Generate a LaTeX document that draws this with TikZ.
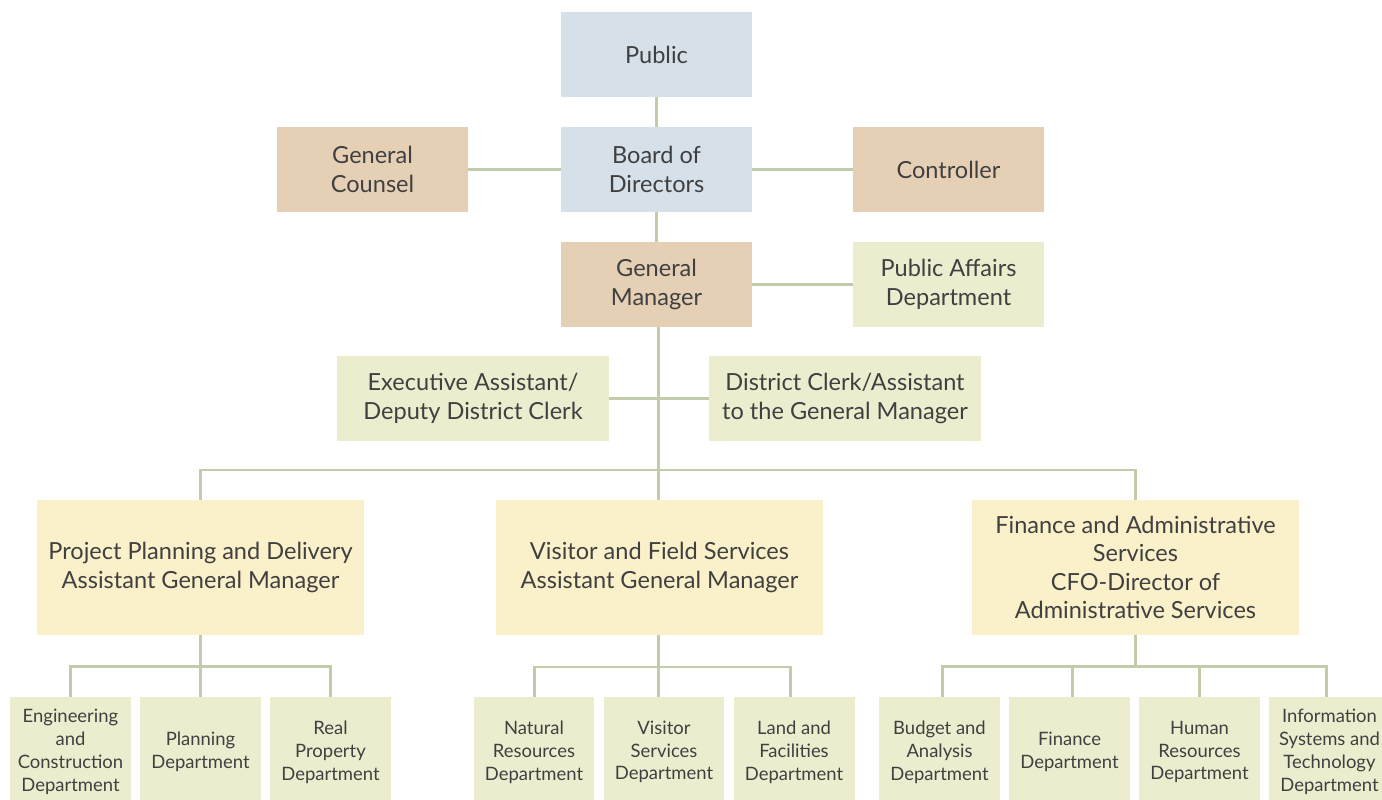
\documentclass[tikz,border=0pt]{standalone}
\usepackage{fontspec}
\setmainfont{Lato}
\definecolor{bluebox}{HTML}{D6E0E8}
\definecolor{tanbox}{HTML}{E5D0B6}
\definecolor{greenbox}{HTML}{ECEDCF}
\definecolor{yellowbox}{HTML}{FAF0CA}
\definecolor{linkcol}{HTML}{C2CCA8}
\definecolor{textcol}{HTML}{404040}
\tikzset{
  unitbox/.style={inner sep=2pt, align=center, text=textcol,
    font=\fontsize{13.4}{16.2}\selectfont},
  topbox/.style={unitbox, minimum width=3.82cm, minimum height=1.7cm},
  assistbox/.style={unitbox, fill=greenbox, minimum width=5.44cm, minimum height=1.7cm},
  agmbox/.style={unitbox, fill=yellowbox, minimum width=6.54cm, minimum height=2.7cm},
  deptbox/.style={unitbox, fill=greenbox, minimum width=2.42cm, minimum height=2.2cm,
    font=\fontsize{10.5}{13}\selectfont},
  link/.style={draw=linkcol, line width=1.7pt},
}
\begin{document}
\begin{tikzpicture}[x=0.02cm, y=-0.02cm]
  \useasboundingbox (0,0) rectangle (1382,800);
  \clip (0,0) rectangle (1382,800);

  % governance
  \node[topbox, fill=bluebox] at (656.5,54.5) (public) {Public};
  \node[topbox, fill=bluebox] at (656.5,169.5) (board) {Board of\\Directors};
  \node[topbox, fill=tanbox] at (372.5,169.5) (counsel) {General\\Counsel};
  \node[topbox, fill=tanbox] at (948.5,169.5) (controller) {Controller};
  \node[topbox, fill=tanbox] at (656.5,284.5) (gm) {General\\Manager};
  \node[topbox, fill=greenbox] at (948.5,284.5) (affairs) {Public Affairs\\Department};
  \node[assistbox] at (473,398.5) (exec) {Executive Assistant/\\Deputy District Clerk};
  \node[assistbox] at (845,398.5) (clerk) {District Clerk/Assistant\\to the General Manager};

  % assistant general managers
  \node[agmbox] at (200.5,567.5) (ppd) {Project Planning and Delivery\\Assistant General Manager};
  \node[agmbox] at (659.5,567.5) (vfs) {Visitor and Field Services\\Assistant General Manager};
  \node[agmbox] at (1135.5,567.5) (fas) {Finance and Administrative\\Services\\CFO-Director of\\Administrative Services};

  % departments
  \node[deptbox] at (70.5,752) (eng) {Engineering\\and\\Construction\\Department};
  \node[deptbox] at (200.5,752) (plan) {Planning\\Department};
  \node[deptbox] at (330.5,752) (prop) {Real\\Property\\Department};
  \node[deptbox] at (534,752) (nat) {Natural\\Resources\\Department};
  \node[deptbox] at (664,752) (vis) {Visitor\\Services\\Department};
  \node[deptbox] at (794,752) (land) {Land and\\Facilities\\Department};
  \node[deptbox] at (939.5,752) (budget) {Budget and\\Analysis\\Department};
  \node[deptbox] at (1069.5,752) (fin) {Finance\\Department};
  \node[deptbox] at (1199.5,752) (hr) {Human\\Resources\\Department};
  \node[deptbox] at (1329.5,752) (ist) {Information\\Systems and\\Technology\\Department};

  \coordinate (bus) at (658,470);
  \path (ppd.south) ++(0,31) coordinate (ppdbus);
  \coordinate (vfsbus) at (658,667);
  \path (fas.south) ++(0,31) coordinate (fasbus);

  \draw[link] (public) -- (board);
  \draw[link] (board) -- (counsel);
  \draw[link] (board) -- (controller);
  \draw[link] (board) -- (gm);
  \draw[link] (gm) -- (affairs);
  \draw[link] (gm.south -| bus) -- (vfs.north -| bus);
  \draw[link] (exec.east) -- (exec.east -| bus);
  \draw[link] (clerk.west) -- (clerk.west -| bus);
  \draw[link] (ppd.north) |- (bus) -| (fas.north);

  \draw[link] (ppd.south) -- (ppdbus);
  \draw[link] (eng.north) |- (ppdbus) -| (prop.north);
  \draw[link] (ppdbus) -- (plan.north);
  \draw[link] (vfs.south -| vfsbus) -- (vfsbus);
  \draw[link] (nat.north) |- (vfsbus) -| ([xshift=-2]land.north);
  \draw[link] (vfsbus) -- (vfsbus |- vis.north);
  \draw[link] ([xshift=1.5]budget.north) |- (fasbus) -| ([xshift=-1.5]ist.north);
  \draw[link] (fas.south) -- (fasbus);
  \draw[link] ([xshift=1.5]fin.north) -- ([xshift=1.5]fin.north |- fasbus);
  \draw[link] (hr.north) -- (hr.north |- fasbus);
\end{tikzpicture}
\end{document}
